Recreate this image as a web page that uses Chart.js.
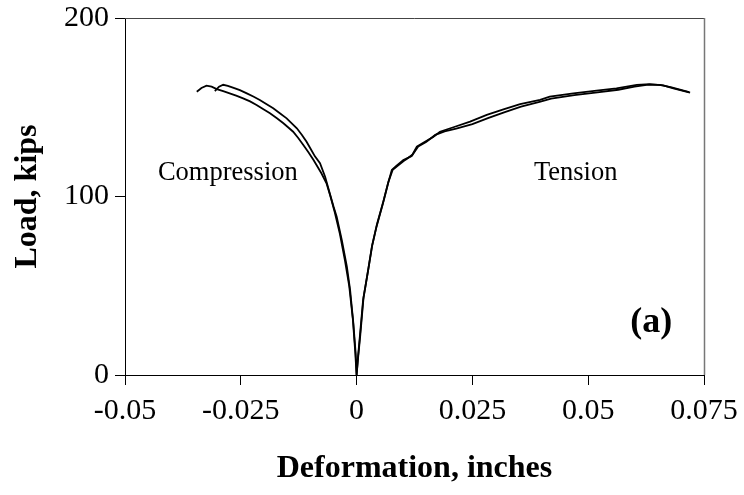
<!DOCTYPE html>
<html>
<head>
<meta charset="utf-8">
<script src="https://cdn.jsdelivr.net/npm/chart.js@4/dist/chart.umd.min.js"></script>
<style>
html, body { margin: 0; padding: 0; background: #fff; }
#wrap { width: 744px; height: 495px; }
</style>
</head>
<body>
<div id="wrap"><canvas id="loadChart"></canvas></div>
<script>
// curve A: inner compression branch, through origin, tension branch
var curveAX = [-0.0306,-0.0297,-0.0288,-0.0278,-0.0267,-0.0252,-0.0237,-0.0223,-0.0209,-0.0195,-0.0180,-0.0165,-0.0151,-0.0140,-0.0129,-0.0118,-0.0108,-0.0100,-0.0090,-0.0079,-0.0068,-0.0058,-0.0050,-0.0043,-0.0032,-0.0021,-0.0014,-0.0007,-0.0002,0,
  0.0003,0.0007,0.0014,0.0020,0.0025,0.0033,0.0043,0.0057,0.0068,0.0076,0.0085,0.0101,0.0119,0.0130,0.0144,0.0166,0.0180,0.0209,0.0245,0.0281,0.0317,0.0353,0.0396,0.0417,0.0468,0.0518,0.0561,0.0605,0.0633,0.0662,0.0684,0.0705,0.0720];
var curveAY = [159.0,161.5,162.6,162.0,161.0,159.6,157.8,156.0,154.1,151.8,149.4,146.5,143.8,141.0,138.2,134.5,130.7,127.0,122.5,118.6,111.1,101.8,94.5,88.7,75.6,60.7,47.6,29.0,12.0,0,
  10,21.5,42,51,58.8,71.9,83.1,96.2,107.4,114.8,117.0,120.4,122.7,127.9,130.1,133.5,136.3,138.8,141.9,145.7,148.8,151.7,154.1,155.9,157.8,159.3,160.6,162.5,162.9,162.3,160.6,159.2,158.2];

// curve B: outer compression branch, through origin, tension branch
var curveBX = [-0.0345,-0.0335,-0.0324,-0.0313,-0.0302,-0.0288,-0.0274,-0.0260,-0.0245,-0.0230,-0.0216,-0.0202,-0.0187,-0.0172,-0.0158,-0.0148,-0.0137,-0.0126,-0.0115,-0.0104,-0.0093,-0.0076,-0.0065,-0.0057,-0.0047,-0.0036,-0.0025,-0.0016,-0.0008,-0.0003,0,
  0.0003,0.0008,0.0015,0.0026,0.0034,0.0044,0.0058,0.0069,0.0078,0.0090,0.0105,0.0121,0.0133,0.0150,0.0170,0.0190,0.0215,0.0250,0.0285,0.0320,0.0355,0.0395,0.0420,0.0470,0.0520,0.0565,0.0600,0.0630,0.0655,0.0680,0.0700,0.0718];
var curveBY = [158.7,160.8,162.1,161.5,160.2,159.0,157.8,156.5,155.0,153.3,151.3,149.0,146.6,143.8,141.0,138.8,136.3,132.8,128.9,124.8,120.4,113.0,107.4,100.5,91.0,79.0,64.0,50.0,31.0,13.0,0,
  9,22.5,43.5,60.5,73.0,84.5,97.5,108.5,115.0,117.5,120.5,123.5,128.0,130.5,134.5,136.5,138.0,140.5,144.0,147.3,150.3,153.0,154.8,156.8,158.3,159.8,161.5,162.7,162.5,161.2,159.8,158.5];

var xTickValues = [-0.05, -0.025, 0, 0.025, 0.05, 0.075];
var yTickValues = [0, 100, 200];

var noteTexts = ['Compression', 'Tension', '(a)'];
var noteX = [-0.0278, 0.0473, 0.0636];
var noteY = [109.2, 109.2, 24.3];

var serif = "'Liberation Serif', 'Times New Roman', serif";

function toPoints(xs, ys) {
  return xs.map(function (x, i) { return { x: x, y: ys[i] }; });
}

var framePlugin = {
  id: 'frame',
  afterDraw: function (chart) {
    var ctx = chart.ctx, a = chart.chartArea;
    var xs = chart.scales.x, ys = chart.scales.y;
    ctx.save();
    ctx.strokeStyle = '#444';
    ctx.lineWidth = 1;
    ctx.beginPath();
    ctx.moveTo(a.left, a.top + 0.5);
    ctx.lineTo(a.right + 0.5, a.top + 0.5);
    ctx.stroke();
    ctx.strokeStyle = '#777';
    ctx.lineWidth = 1.5;
    ctx.beginPath();
    ctx.moveTo(a.right + 0.5, a.top);
    ctx.lineTo(a.right + 0.5, a.bottom);
    ctx.stroke();
    ctx.fillStyle = '#000';
    ctx.textAlign = 'center';
    ctx.textBaseline = 'alphabetic';
    noteTexts.forEach(function (t, i) {
      ctx.font = i === 2 ? 'bold 36px ' + serif : '26.5px ' + serif;
      ctx.fillText(t, xs.getPixelForValue(noteX[i]), ys.getPixelForValue(noteY[i]));
    });
    ctx.restore();
  }
};

new Chart(document.getElementById('loadChart'), {
  type: 'scatter',
  data: {
    datasets: [
      { data: toPoints(curveAX, curveAY), showLine: true, borderColor: '#000', borderWidth: 1.8, pointRadius: 0, tension: 0 },
      { data: toPoints(curveBX, curveBY), showLine: true, borderColor: '#000', borderWidth: 1.8, pointRadius: 0, tension: 0 }
    ]
  },
  options: {
    responsive: true,
    maintainAspectRatio: false,
    animation: false,
    layout: { padding: { top: 18, right: 40, left: 0, bottom: 0 } },
    plugins: { legend: { display: false }, tooltip: { enabled: false } },
    scales: {
      x: {
        type: 'linear', min: -0.05, max: 0.075,
        afterBuildTicks: function (axis) { axis.ticks = xTickValues.map(function (v) { return { value: v }; }); },
        afterFit: function (axis) { axis.height = 120; axis.paddingLeft = 0; axis.paddingRight = 0; },
        ticks: { color: '#000', font: { family: serif, size: 30 }, padding: 8, maxRotation: 0,
          callback: function (v) { return String(v); } },
        grid: { drawOnChartArea: false, drawTicks: true, tickLength: 10, color: '#000' },
        border: { display: true, color: '#000', width: 1 },
        title: { display: true, text: 'Deformation, inches', color: '#000', font: { family: serif, size: 32, weight: 'bold' }, padding: { top: 0, bottom: 7 } }
      },
      y: {
        type: 'linear', min: 0, max: 200,
        afterBuildTicks: function (axis) { axis.ticks = yTickValues.map(function (v) { return { value: v }; }); },
        afterFit: function (axis) { axis.width = 125; axis.paddingTop = 0; axis.paddingBottom = 0; },
        ticks: { color: '#000', font: { family: serif, size: 30 }, padding: 6,
          callback: function (v) { return String(v); } },
        grid: { drawOnChartArea: false, drawTicks: true, tickLength: 10, color: '#000' },
        border: { display: true, color: '#000', width: 1 },
        title: { display: true, text: 'Load, kips', color: '#000', font: { family: serif, size: 32, weight: 'bold' }, padding: { top: 9, bottom: 0 } }
      }
    }
  },
  plugins: [framePlugin]
});
</script>
</body>
</html>
